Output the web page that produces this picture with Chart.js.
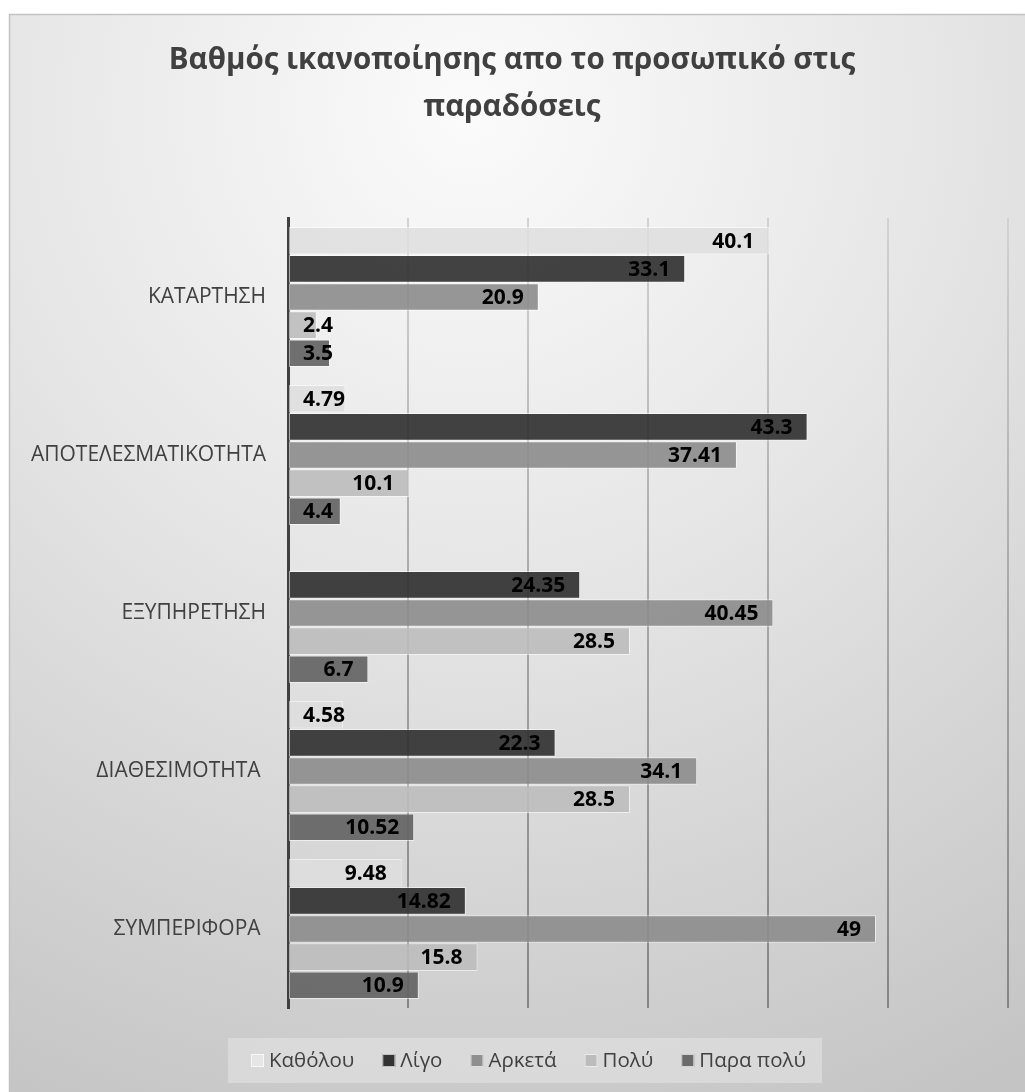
<!DOCTYPE html>
<html lang="el">
<head>
    <meta charset="UTF-8">
    <title>Βαθμός ικανοποίησης</title>
    <script src="https://cdn.jsdelivr.net/npm/chart.js"></script>
    <style>
        html, body { margin: 0; padding: 0; background: #ffffff; }
        .chart-container { position: relative; width: 1025px; height: 1092px; }
    </style>
</head>
<body>
    <div class="chart-container">
        <canvas id="satChart"></canvas>
    </div>

    <script>
        // Chart data
        const titleLines = ['Βαθμός ικανοποίησης απο το προσωπικό στις', 'παραδόσεις'];
        const categories = ['ΚΑΤΑΡΤΗΣΗ', 'ΑΠΟΤΕΛΕΣΜΑΤΙΚΟΤΗΤΑ', 'ΕΞΥΠΗΡΕΤΗΣΗ', 'ΔΙΑΘΕΣΙΜΟΤΗΤΑ ', 'ΣΥΜΠΕΡΙΦΟΡΑ '];
        const seriesNames = ['Καθόλου', 'Λίγο', 'Αρκετά', 'Πολύ', 'Παρα πολύ'];
        const katholou = [40.1, 4.79, null, 4.58, 9.48];
        const ligo = [33.1, 43.3, 24.35, 22.3, 14.82];
        const arketa = [20.9, 37.41, 40.45, 34.1, 49];
        const poly = [2.4, 10.1, 28.5, 28.5, 15.8];
        const paraPoly = [3.5, 4.4, 6.7, 10.52, 10.9];
        const seriesColors = ['rgba(222,222,222,0.85)', 'rgba(50,50,50,0.92)', 'rgba(140,140,140,0.9)', 'rgba(188,188,188,0.9)', 'rgba(100,100,100,0.92)'];
        const legendColors = ['#e6e6e6', '#333333', '#8f8f8f', '#bcbcbc', '#6a6a6a'];

        const FONT = '"Open Sans", "Noto Sans", sans-serif';

        // background, title and legend drawn around the plot
        const framePlugin = {
            id: 'frame',
            beforeDraw(chart) {
                const ctx = chart.ctx;
                const w = chart.width, h = chart.height;
                ctx.save();
                ctx.fillStyle = '#ffffff';
                ctx.fillRect(0, 0, w, h);
                const g = ctx.createRadialGradient(470, 110, 0, 470, 110, 1100);
                g.addColorStop(0, '#fbfbfb');
                g.addColorStop(0.45, '#e5e5e5');
                g.addColorStop(1, '#c4c4c4');
                ctx.fillStyle = g;
                ctx.fillRect(9, 14, w - 9, h - 14);
                ctx.strokeStyle = '#c2c2c2';
                ctx.lineWidth = 1.5;
                ctx.strokeRect(9.5, 14.5, w, h);

                // title
                ctx.fillStyle = '#404040';
                ctx.font = 'bold 29.5px ' + FONT;
                ctx.textAlign = 'center';
                ctx.textBaseline = 'middle';
                ctx.fillText(titleLines[0], 512, 61);
                ctx.fillText(titleLines[1], 512, 108);

                // legend
                ctx.fillStyle = 'rgba(235,235,235,0.45)';
                ctx.fillRect(228, 1038, 594, 45);
                ctx.font = '20.5px ' + FONT;
                ctx.textAlign = 'left';
                let x = 251;
                seriesNames.forEach((name, i) => {
                    ctx.fillStyle = legendColors[i];
                    ctx.fillRect(x, 1054, 13, 13);
                    ctx.strokeStyle = 'rgba(255,255,255,0.7)';
                    ctx.lineWidth = 1;
                    ctx.strokeRect(x + 0.5, 1054.5, 12, 12);
                    ctx.fillStyle = '#404040';
                    ctx.fillText(name, x + 18, 1061);
                    x += 18 + ctx.measureText(name).width + 28;
                });
                ctx.restore();
            },
            afterDatasetsDraw(chart) {
                // value labels at inside end of each bar
                const ctx = chart.ctx;
                const base = chart.scales.x.getPixelForValue(0);
                ctx.save();
                ctx.font = 'bold 21px ' + FONT;
                ctx.fillStyle = '#000000';
                ctx.textBaseline = 'middle';
                ctx.textAlign = 'left';
                chart.data.datasets.forEach((ds, di) => {
                    const meta = chart.getDatasetMeta(di);
                    meta.data.forEach((bar, i) => {
                        const v = ds.data[i];
                        if (v === null || v === undefined) return;
                        const txt = String(v);
                        const tw = ctx.measureText(txt).width;
                        let left = bar.x - 15 - tw;
                        if (left < base + 15) left = base + 15;
                        ctx.fillText(txt, left, bar.y + 1);
                    });
                });
                ctx.restore();
            }
        };

        let gridGradient = null;
        function gridColor(context) {
            const chart = context.chart;
            if (!chart.chartArea) return '#a0a0a0';
            if (!gridGradient) {
                gridGradient = chart.ctx.createLinearGradient(0, chart.chartArea.top, 0, chart.chartArea.bottom);
                gridGradient.addColorStop(0, '#d2d2d2');
                gridGradient.addColorStop(0.5, '#a6a6a6');
                gridGradient.addColorStop(1, '#858585');
            }
            return gridGradient;
        }

        const datasets = [katholou, ligo, arketa, poly, paraPoly].map((vals, i) => ({
            label: seriesNames[i],
            data: vals,
            backgroundColor: seriesColors[i],
            borderColor: 'rgba(255,255,255,0.55)',
            borderWidth: 1,
            borderSkipped: false,
            categoryPercentage: 0.89,
            barPercentage: 0.98
        }));

        new Chart(document.getElementById('satChart').getContext('2d'), {
            type: 'bar',
            data: { labels: categories, datasets: datasets },
            options: {
                indexAxis: 'y',
                responsive: true,
                maintainAspectRatio: false,
                animation: false,
                layout: { padding: { top: 218, bottom: 84, left: 0, right: 17 } },
                plugins: {
                    legend: { display: false },
                    title: { display: false },
                    tooltip: { enabled: false }
                },
                scales: {
                    x: {
                        min: 0,
                        max: 60,
                        ticks: { display: false, stepSize: 10 },
                        grid: { color: gridColor, lineWidth: 2, drawTicks: false },
                        border: { display: false },
                        afterFit(scale) { scale.height = 0; }
                    },
                    y: {
                        ticks: {
                            color: '#404040',
                            font: { family: FONT, size: 21 },
                            padding: 22
                        },
                        grid: { display: false, drawTicks: false },
                        border: { display: true, color: '#404040', width: 3 },
                        afterFit(scale) { scale.width = 288; }
                    }
                }
            },
            plugins: [framePlugin]
        });
    </script>
</body>
</html>
